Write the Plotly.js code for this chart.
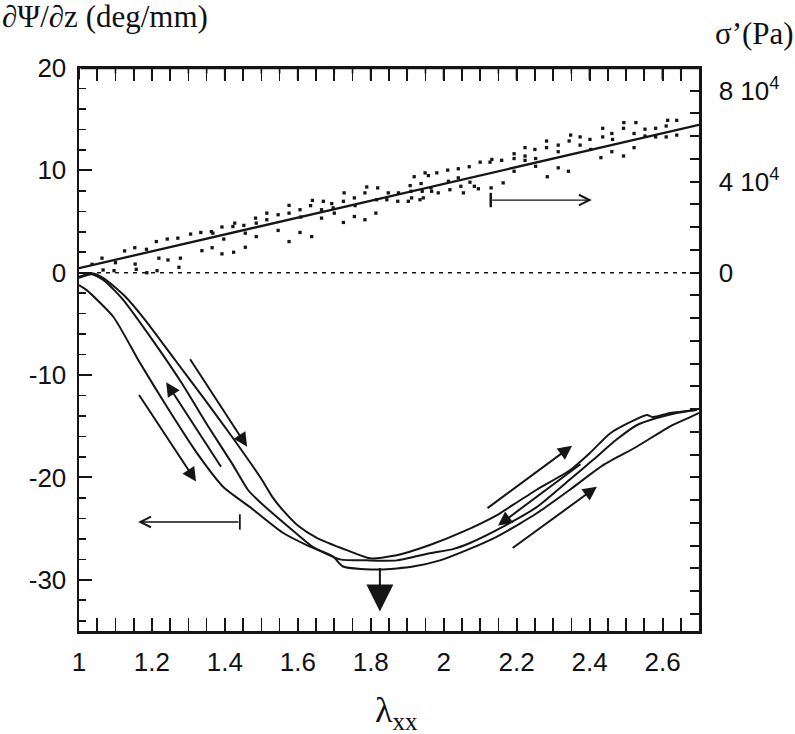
<!DOCTYPE html>
<html>
<head>
<meta charset="utf-8">
<script src="https://cdn.plot.ly/plotly-3.0.1.min.js"></script>
<style>html,body{margin:0;padding:0;background:#fff;}#chart{width:795px;height:734px;}</style>
</head>
<body>
<div id="chart"></div>
<script>
// ---- Data: twist gradient curves (left axis, deg/mm) ----
const curve1X = [1.0,1.021,1.094,1.167,1.241,1.323,1.395,1.469,1.559,1.63,1.696,1.724,1.825,1.916,1.99,2.063,2.145,2.209,2.255,2.346,2.437,2.529,2.621,2.676,2.70];
const curve1Y = [-1.2,-1.7,-4.3,-8.8,-13.1,-17.6,-20.9,-22.9,-25.4,-26.7,-27.7,-28.7,-29.0,-28.7,-28.1,-27.1,-25.8,-24.5,-23.5,-21.2,-18.8,-17.0,-15.0,-14.1,-13.7];
const curve2X = [1.0,1.035,1.07,1.12,1.208,1.282,1.354,1.419,1.463,1.496,1.587,1.642,1.716,1.789,1.871,1.962,2.025,2.072,2.163,2.255,2.346,2.409,2.474,2.529,2.584,2.639,2.69];
const curve2Y = [-0.5,-0.15,-0.8,-2.6,-6.9,-10.8,-15.0,-18.6,-21.2,-22.4,-25.2,-26.8,-28.0,-28.1,-28.1,-27.4,-27.0,-26.4,-24.8,-22.9,-20.2,-18.3,-16.3,-14.9,-14.2,-13.7,-13.4];
const curve3X = [1.0,1.035,1.07,1.126,1.181,1.263,1.345,1.419,1.501,1.53,1.559,1.60,1.652,1.734,1.798,1.871,1.962,2.053,2.145,2.163,2.255,2.346,2.401,2.456,2.511,2.557,2.574,2.621,2.694];
const curve3Y = [-0.4,-0.05,-0.6,-2.3,-4.6,-8.5,-12.4,-16.0,-20.2,-21.9,-23.2,-24.7,-25.9,-27.1,-27.9,-27.6,-26.6,-25.3,-23.7,-23.3,-21.2,-19.3,-17.6,-15.7,-14.6,-13.9,-14.1,-13.7,-13.4];

// ---- Data: stress points (right axis, Pa) ----
const stressX = [1.036,1.063,1.066,1.096,1.100,1.125,1.153,1.154,1.157,1.185,1.186,1.212,1.214,1.219,1.242,1.244,1.271,1.274,1.278,1.306,1.334,1.337,1.363,1.367,1.365,1.392,1.392,1.397,1.422,1.424,1.427,1.452,1.456,1.456,1.484,1.486,1.486,1.515,1.515,1.546,1.546,1.576,1.576,1.576,
1.606,1.606,1.608,1.635,1.638,1.640,1.665,1.665,1.670,1.693,1.697,1.700,1.725,1.727,1.725,1.755,1.755,1.757,1.784,1.784,1.789,1.814,1.819,1.816,1.844,1.848,1.874,1.876,1.903,1.908,1.910,1.912,1.919,1.935,1.938,1.941,1.944,1.949,1.958,1.965,1.967,1.981,1.985,2.011,2.013,2.017,2.040,2.040,2.047,2.054,2.070,2.072,2.084,2.095,2.100,2.127,2.132,2.130,
2.159,2.163,2.193,2.193,2.193,2.223,2.223,2.223,2.250,2.252,2.252,2.282,2.282,2.284,2.314,2.314,2.314,2.342,2.344,2.348,2.374,2.374,2.401,2.403,2.431,2.436,2.436,2.461,2.463,2.461,2.493,2.494,2.493,2.522,2.522,2.527,2.552,2.552,2.581,2.581,2.610,2.610,2.614,2.639,2.639];
const stressY = [3700,6400,1200,900,4400,9600,11000,3800,1500,10300,0,13700,900,6400,14800,5600,15200,2400,6400,17000,17700,9700,18100,17400,11000,20100,8300,14800,20300,9000,21800,20800,17400,11200,24000,21800,15900,26200,23300,25500,18600,29600,26200,13700,
27700,17700,24500,29500,15900,31800,27700,24000,31400,30400,28500,26200,31400,35100,22100,32900,24700,29500,35100,23300,37700,26200,37300,32100,32100,35100,31400,35100,31400,38300,35800,32900,42200,32100,39200,35800,32900,43900,42700,37300,35800,43900,35100,45100,40200,36500,45700,41700,38000,35100,46600,39800,38000,36900,48600,48600,49800,37300,
49400,39500,52300,50200,44600,55000,51300,49400,54200,50200,46800,57900,55000,42200,56100,53200,46100,44600,57900,60500,59700,56100,58600,54200,50600,63500,59700,61200,58600,53200,63500,66000,51300,61200,55000,66000,63100,60100,63500,59700,64500,59700,67000,67000,60500];

// ---- Data: linear fit of stress (right axis) ----
const fitX = [1.0, 2.7];
const fitY = [2000, 65000];

// ---- Data: zero reference line (left axis) ----
const zeroX = [1.0, 2.7];
const zeroY = [0, 0];

// ---- Tick labels ----
const xTickVals = [1,1.2,1.4,1.6,1.8,2,2.2,2.4,2.6];
const xTickText = ['1','1.2','1.4','1.6','1.8','2','2.2','2.4','2.6'];
const yTickVals = [-30,-20,-10,0,10,20];
const yTickText = ['-30','-20','-10','0','10','20'];
const y2TickVals = [0,40000,80000];
const y2TickText = ['0','4 10<sup>4</sup>','8 10<sup>4</sup>'];

const xRange = [1, 2.7];
const yRange = [-35, 20];

const ink = '#151515';
const curveLine = {color: ink, width: 2, shape:'spline', smoothing:0.6};

const traces = [
  {x: zeroX, y: zeroY, mode:'lines', line:{color: ink, width:1.6, dash:'4px,5px'}, yaxis:'y', hoverinfo:'skip'},
  {x: curve1X, y: curve1Y, mode:'lines', line: curveLine, yaxis:'y', hoverinfo:'skip'},
  {x: curve2X, y: curve2Y, mode:'lines', line: curveLine, yaxis:'y', hoverinfo:'skip'},
  {x: curve3X, y: curve3Y, mode:'lines', line: curveLine, yaxis:'y', hoverinfo:'skip'},
  {x: stressX, y: stressY, mode:'markers', marker:{symbol:'square', size:3.3, color: ink}, yaxis:'y2', hoverinfo:'skip'},
  {x: fitX, y: fitY, mode:'lines', line:{color: ink, width:2.3}, yaxis:'y2', hoverinfo:'skip'}
];

function arrow(x, y, ax, ay, head, size, width) {
  return {x:x, y:y, ax:ax, ay:ay, xref:'x', yref:'y', axref:'x', ayref:'y', text:'', showarrow:true,
          arrowhead:head, arrowsize:size, arrowwidth:width, arrowcolor:ink, font:{size:1}};
}
// plain segment (no head), used for the top frame of the box
function segment(x, y, ax, ay, width) {
  return {x:x, y:y, ax:ax, ay:ay, xref:'x', yref:'y', axref:'x', ayref:'y', text:'', showarrow:true,
          arrowhead:0, arrowwidth:width, arrowcolor:ink, standoff:0, startstandoff:0, font:{size:1}};
}

const serif = 'Liberation Serif, Times New Roman, serif';
const annotations = [
  // descending branch arrows
  arrow(1.461,-17.0, 1.302,-8.3, 2, 1.4, 2),
  arrow(1.321,-20.4, 1.162,-11.8, 2, 1.4, 2),
  arrow(1.239,-10.7, 1.392,-19.1, 2, 1.4, 2),
  // ascending branch arrows
  arrow(2.352,-16.9, 2.116,-23.1, 2, 1.4, 2),
  arrow(2.420,-20.9, 2.185,-27.0, 2, 1.4, 2),
  arrow(2.149,-24.7, 2.379,-18.6, 2, 1.4, 2),
  // big downward arrow at the minimum
  arrow(1.825,-33.1, 1.825,-28.7, 2, 2.7, 2),
  // axis indicator arrows
  arrow(2.406, 7.1, 2.129, 7.1, 5, 1.6, 1.3),
  arrow(1.162,-24.35, 1.441,-24.35, 5, 1.6, 1.3),
  // titles
  {xref:'paper', yref:'paper', x:-0.1274, y:1.0906, xanchor:'left', yanchor:'middle', showarrow:false,
   text:'∂Ψ/∂z (deg/mm)', font:{family:serif, size:31, color:'#111'}},
  {xref:'paper', yref:'paper', x:1.0226, y:1.062, xanchor:'left', yanchor:'middle', showarrow:false,
   text:'σ’(Pa)', font:{family:serif, size:31, color:'#111'}},
  {xref:'paper', yref:'paper', x:0.512, y:-0.145, xanchor:'center', yanchor:'middle', showarrow:false,
   text:'λ<sub>xx</sub>', font:{family:serif, size:36, color:'#111'}}
];

// top frame of the box: edge line and inward ticks, built from the x tick arrays
const pxPerUnit = 563 / (yRange[1] - yRange[0]);
annotations.push(segment(xRange[1], yRange[1], xRange[0], yRange[1], 2.5));
xTickVals.forEach(v => annotations.push(segment(v, yRange[1], v, yRange[1] - 13 / pxPerUnit, 2)));
const minorVals = [];
for (let i = 1; i < 34; i++) minorVals.push(1 + i * 0.05);
minorVals.filter(v => !xTickVals.some(t => Math.abs(t - v) < 1e-6))
  .forEach(v => annotations.push(segment(v, yRange[1], v, yRange[1] - 7 / pxPerUnit, 1.6)));

const shapes = [
  // bars at the tails of the indicator arrows
  {type:'line', xref:'x', yref:'y', x0:2.129, x1:2.129, y0:6.4, y1:7.8, line:{color:ink, width:2.5}},
  {type:'line', xref:'x', yref:'y', x0:1.441, x1:1.441, y0:-23.6, y1:-25.1, line:{color:ink, width:1.8}}
];

const tickFont = {family:'Liberation Sans, Arial, sans-serif', size:26, color:'#111'};

const layout = {
  width:795, height:734,
  margin:{l:79, r:96, t:68, b:103},
  paper_bgcolor:'#fff', plot_bgcolor:'#fff',
  showlegend:false,
  xaxis:{range:xRange, tickmode:'array', tickvals:xTickVals, ticktext:xTickText,
         ticks:'inside', ticklen:13, tickwidth:2, tickcolor:ink,
         minor:{tickmode:'linear', tick0:1, dtick:0.05, ticks:'inside', ticklen:7, tickwidth:1.6, tickcolor:ink},
         showline:true, linewidth:2.5, linecolor:ink, mirror:'allticks',
         showgrid:false, zeroline:false, tickfont:tickFont, ticklabelstandoff:6},
  yaxis:{range:yRange, tickmode:'array', tickvals:yTickVals, ticktext:yTickText,
         ticks:'inside', ticklen:13, tickwidth:2, tickcolor:ink,
         minor:{tickmode:'linear', tick0:0, dtick:2, ticks:'inside', ticklen:7, tickwidth:1.6, tickcolor:ink},
         showline:true, linewidth:2.5, linecolor:ink, mirror:false,
         showgrid:false, zeroline:false, tickfont:tickFont, ticklabelstandoff:5},
  yaxis2:{range:[-157500,90000], overlaying:'y', side:'right', tickmode:'array', tickvals:y2TickVals, ticktext:y2TickText,
         ticks:'inside', ticklen:9, tickwidth:2, tickcolor:ink,
         minor:{tickmode:'linear', tick0:0, dtick:10000, ticks:'inside', ticklen:9, tickwidth:2, tickcolor:ink},
         showline:true, linewidth:2.5, linecolor:ink,
         showgrid:false, zeroline:false, tickfont:tickFont, ticklabelstandoff:12},
  annotations: annotations,
  shapes: shapes
};

Plotly.newPlot('chart', traces, layout, {staticPlot:true, displayModeBar:false});
</script>
</body>
</html>
